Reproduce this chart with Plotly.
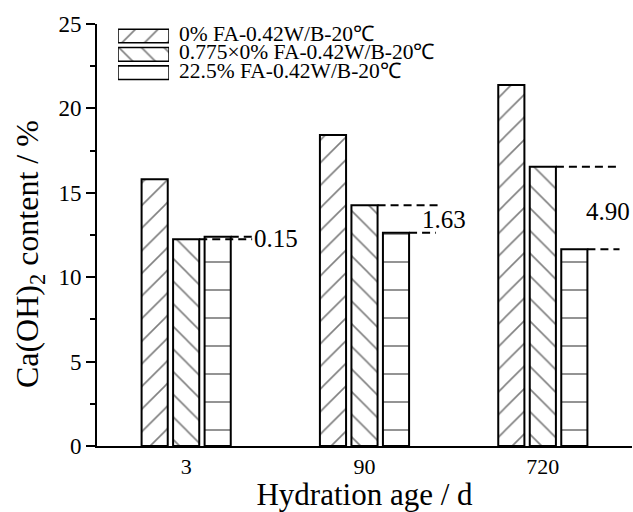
import plotly.graph_objects as go

# ---- data ----
ages = ["3", "90", "720"]
series_names = ["0% FA-0.42W/B-20℃", "0.775×0% FA-0.42W/B-20℃", "22.5% FA-0.42W/B-20℃"]
s_0fa = [15.80, 18.42, 21.38]
s_scaled = [12.25, 14.26, 16.55]
s_fa = [12.40, 12.63, 11.65]
y_ticks = [0, 5, 10, 15, 20, 25]

# ---- style ----
FONT = "Liberation Serif"
patterns = ["/", "\\", "-"]
pat_sizes = [16, 16, 28]
pat_solid = [0.1, 0.1, 0.06]
BARGAP = 0.47
GROUPGAP = 0.17

fig = go.Figure()
for name, vals, pat, ps, sd in zip(series_names, [s_0fa, s_scaled, s_fa], patterns, pat_sizes, pat_solid):
    fig.add_trace(go.Bar(
        x=ages, y=vals, name=name, showlegend=False,
        marker=dict(color="white",
                    line=dict(color="black", width=2),
                    pattern=dict(shape=pat, fgcolor="black", bgcolor="white",
                                 size=ps, solidity=sd, fillmode="overlay")),
    ))

# legend key drawn as an inset of full-length patterned swatches
fig.add_trace(go.Bar(
    y=series_names, x=[1] * len(series_names), orientation="h",
    xaxis="x2", yaxis="y2", width=0.75, showlegend=False, hoverinfo="skip",
    marker=dict(color="white", line=dict(color="black", width=1.5),
                pattern=dict(shape=patterns, fgcolor="black", bgcolor="white",
                             size=pat_sizes, solidity=pat_solid, fillmode="overlay")),
))
for nm in series_names:
    fig.add_annotation(x=1, y=nm, xref="x2", yref="y2", text=nm, showarrow=False,
                       xanchor="left", yanchor="middle", xshift=8, yshift=2,
                       font=dict(family=FONT, size=21.5, color="black"))

# difference markers between series 2 and series 3
slot = (1 - BARGAP) / 3
half_bar = slot * (1 - GROUPGAP) / 2
line_end = [0.37, 0.42, 0.43]          # end of dashed lines (offset from group centre)
low_end = [0.37, 0.40, 0.43]
text_x = [0.37, 0.31, 0.23]            # left edge of the difference label
text_y = [12.3, 13.4, 13.9]
for i, age in enumerate(ages):
    hi, lo = s_scaled[i], s_fa[i]
    fig.add_shape(type="line", xref="x", yref="y",
                  x0=i + half_bar, x1=i + line_end[i], y0=hi, y1=hi,
                  line=dict(color="black", width=2, dash="8px,5px"))
    fig.add_shape(type="line", xref="x", yref="y",
                  x0=i + slot + half_bar, x1=i + low_end[i], y0=lo, y1=lo,
                  line=dict(color="black", width=2, dash="8px,5px"))
    fig.add_annotation(x=i + text_x[i], y=text_y[i], xref="x", yref="y",
                       text=f"{abs(hi - lo):.2f}", showarrow=False,
                       xanchor="left", yanchor="middle",
                       font=dict(family=FONT, size=25, color="black"))

# y-axis title (placed slightly below the axis centre, as in the original)
fig.add_annotation(x=-0.125, y=0.455, xref="paper", yref="paper",
                   text="Ca(OH)<sub>2</sub> content / %", textangle=-90, showarrow=False,
                   xanchor="center", yanchor="middle",
                   font=dict(family=FONT, size=32, color="black"))

fig.update_layout(
    width=633, height=512,
    margin=dict(l=97, r=1, t=24, b=66),
    paper_bgcolor="white", plot_bgcolor="white",
    barmode="group", bargap=BARGAP, bargroupgap=GROUPGAP,
    font=dict(family=FONT, size=22, color="black"),
    showlegend=False,
    xaxis=dict(type="category", range=[-0.5, 2.5],
               showline=True, linecolor="black", linewidth=2,
               ticks="", showgrid=False, zeroline=False,
               tickfont=dict(family=FONT, size=22),
               title=dict(text="Hydration age / d", font=dict(family=FONT, size=31), standoff=5)),
    yaxis=dict(range=[0, 25], tickvals=y_ticks,
               showline=True, linecolor="black", linewidth=2,
               ticks="outside", ticklen=9, tickwidth=2, tickcolor="black",
               minor=dict(dtick=2.5, ticks="outside", ticklen=5, tickwidth=2, tickcolor="black"),
               showgrid=False, zeroline=False,
               tickfont=dict(family=FONT, size=23)),
    xaxis2=dict(domain=[0.0393, 0.1346], range=[0, 1], anchor="y2", visible=False, fixedrange=True),
    yaxis2=dict(domain=[0.847, 1.0], anchor="x2", type="category", autorange="reversed",
                visible=False, fixedrange=True),
)

fig.write_html("out.html")
